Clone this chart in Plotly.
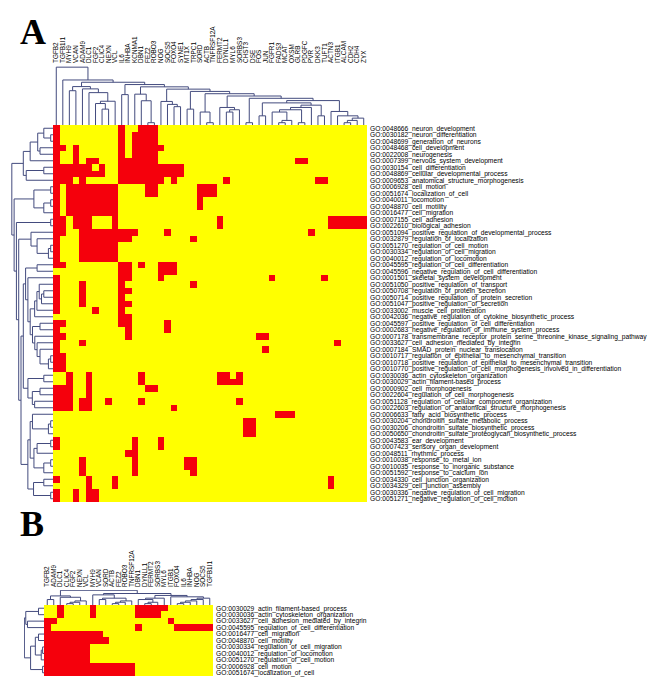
import plotly.graph_objects as go
import numpy as np

# ---------------- Panel A data ----------------
genes_A = ["TGFB2","TGFB1I1","MYH9","VCAN","ADAM9","DLC1","FGF2","CLIC4","NEXN","VCL",
           "IL6","INHBA","KCNMA1","DBN1","FEZ2","ROBO3","NOG","SOCS5","FOXO4","SYNE1",
           "MT1X","TRPC1","SORD","ACTB","TNFRSF12A","FERMT2","DYNLL1","MYL6","SORBS3","CHST3",
           "DSE","FOS","JUN","FGFR1","FADS3","MCAT","OXSM","GLRB","PDGFC","PVR",
           "DKK3","TUFT1","ACTN3","ITGB1","ALCAM","CDH2","CDH4","ZYX"]

terms_A = [
    "GO:0048666_neuron_development","GO:0030182_neuron_differentiation","GO:0048699_generation_of_neurons",
    "GO:0048468_cell_development","GO:0022008_neurogenesis","GO:0007399_nervous_system_development",
    "GO:0030154_cell_differentiation","GO:0048869_cellular_developmental_process",
    "GO:0009653_anatomical_structure_morphogenesis","GO:0006928_cell_motion","GO:0051674_localization_of_cell",
    "GO:0040011_locomotion","GO:0048870_cell_motility","GO:0016477_cell_migration","GO:0007155_cell_adhesion",
    "GO:0022610_biological_adhesion","GO:0051094_positive_regulation_of_developmental_process",
    "GO:0032879_regulation_of_localization","GO:0051270_regulation_of_cell_motion",
    "GO:0030334_regulation_of_cell_migration","GO:0040012_regulation_of_locomotion",
    "GO:0045595_regulation_of_cell_differentiation","GO:0045596_negative_regulation_of_cell_differentiation",
    "GO:0001501_skeletal_system_development","GO:0051050_positive_regulation_of_transport",
    "GO:0050708_regulation_of_protein_secretion","GO:0050714_positive_regulation_of_protein_secretion",
    "GO:0051047_positive_regulation_of_secretion","GO:0033002_muscle_cell_proliferation",
    "GO:0042036_negative_regulation_of_cytokine_biosynthetic_process",
    "GO:0045597_positive_regulation_of_cell_differentiation",
    "GO:0002683_negative_regulation_of_immune_system_process",
    "GO:0007178_transmembrane_receptor_protein_serine_threonine_kinase_signaling_pathway",
    "GO:0033627_cell_adhesion_mediated_by_integrin","GO:0007184_SMAD_protein_nuclear_translocation",
    "GO:0010717_regulation_of_epithelial_to_mesenchymal_transition",
    "GO:0010718_positive_regulation_of_epithelial_to_mesenchymal_transition",
    "GO:0010770_positive_regulation_of_cell_morphogenesis_involved_in_differentiation",
    "GO:0030036_actin_cytoskeleton_organization","GO:0030029_actin_filament-based_process",
    "GO:0000902_cell_morphogenesis","GO:0022604_regulation_of_cell_morphogenesis",
    "GO:0051128_regulation_of_cellular_component_organization",
    "GO:0022603_regulation_of_anatomical_structure_morphogenesis","GO:0006633_fatty_acid_biosynthetic_process",
    "GO:0030204_chondroitin_sulfate_metabolic_process","GO:0030206_chondroitin_sulfate_biosynthetic_process",
    "GO:0050650_chondroitin_sulfate_proteoglycan_biosynthetic_process","GO:0043583_ear_development",
    "GO:0007423_sensory_organ_development","GO:0048511_rhythmic_process","GO:0010038_response_to_metal_ion",
    "GO:0010035_response_to_inorganic_substance","GO:0051592_response_to_calcium_ion",
    "GO:0034330_cell_junction_organization","GO:0034329_cell_junction_assembly",
    "GO:0030336_negative_regulation_of_cell_migration","GO:0051271_negative_regulation_of_cell_motion"]

# red (gene annotated to term) column indices for each term row
red_A = [
    [0,10,13,14,15],
    [0,10,12,13,14,15],
    [0,10,12,13,14,15],
    [0,1,3,10,12,13,14,15,16],
    [0,3,10,12,13,14,15],
    [0,3,5,6,10,11,12,13,14,15,37,38],
    [0,1,2,3,4,5,7,10,11,12,13,14,15,16,17,18,19],
    [0,1,2,3,4,5,6,7,10,11,12,13,14,15,16,17,18,19],
    [0,1,2,4,10,11,12,13,14,15,16,18,26,40,41],
    [0,2,3,4,5,6,7,8,9,14,15,22,23,24],
    [0,2,3,4,5,6,7,8,9,14,15,22,23,24],
    [0,2,3,4,5,6,7,8,9,22],
    [0,2,3,4,5,6,7,8,9,22],
    [0,2,3,4,5,6,7,8,9],
    [0,1,3,4,5,9,25,42,43,44,45,46,47],
    [0,1,3,4,5,9,25,42,43,44,45,46,47],
    [0,1,4,5,6,7,8,9,10,11,12,17,39],
    [0,4,5,6,7,8,9,10,11,21],
    [0,4,5,6,7,8,9],
    [0,4,5,6,7,8,9],
    [0,4,5,6,7,8,9],
    [0,1,10,11,13,16,17,18],
    [10,11,16,17,18],
    [0,10,11,16,33,41],
    [0,4,10,21],
    [0,4,10,11],
    [0,4,10],
    [0,4,10,11],
    [0,6,10],
    [10,11],
    [0,1,10,11,17],
    [0,11,17],
    [0,1,11,31,32],
    [0,4,43],
    [0,32],
    [0,1],
    [0,1],
    [0,1],
    [2,5,13,25,26,28],
    [2,5,13,25,26,27,28],
    [0,1,2,5,14,15],
    [0,1,2,5],
    [0,1,2,4,5,8,13,28],
    [0,1,2,4,5,18],
    [34,35,36],
    [29,30],
    [29,30],
    [29,30],
    [0,12,16],
    [0,12,16],
    [11,12],
    [4,12,20,21],
    [4,12,20,21],
    [4,12,21],
    [0,5,9,42],
    [5,9,42],
    [0,3,5,6],
    [0,3,5,6]]

# ---------------- Panel B data ----------------
genes_B = ["TGFB2","ADAM9","DLC1","CLIC4","FGF2","NEXN","VCL","MYH9","VCAN","SORD","ACTB","FEZ2","ROBO3",
           "TNFRSF12A","DBN1","DYNLL1","FERMT2","SORBS3","MYL6","ITGB1","FOXO4","IL6","INHBA","NOG","SOCS5","TGFB1I1"]
terms_B = ["GO:0030029_actin_filament-based_process","GO:0030036_actin_cytoskeleton_organization",
           "GO:0033627_cell_adhesion_mediated_by_integrin","GO:0045595_regulation_of_cell_differentiation",
           "GO:0016477_cell_migration","GO:0048870_cell_motility","GO:0030334_regulation_of_cell_migration",
           "GO:0040012_regulation_of_locomotion","GO:0051270_regulation_of_cell_motion",
           "GO:0006928_cell_motion","GO:0051674_localization_of_cell"]
red_B = [
    [2,7,14,15,16,17,18],
    [2,7,14,15,16,17],
    [0,1,19],
    [0,14,20,21,22,23,24,25],
    [0,1,2,3,4,5,6,7,8],
    [0,1,2,3,4,5,6,7,8,9],
    [0,1,2,3,4,5,6],
    [0,1,2,3,4,5,6],
    [0,1,2,3,4,5,6],
    [0,1,2,3,4,5,6,7,8,9,10,11,12,13],
    [0,1,2,3,4,5,6,7,8,9,10,11,12,13]]

YELLOW = "#FFFF00"
RED = "#F5000C"
LINE = "#434b7e"
W, H = 660, 677


def to_matrix(rows, ncol):
    return np.array([[1 if c in set(r) else 0 for c in range(ncol)] for r in rows], dtype=float)


def ordered_linkage(vectors, eps=0.25):
    """Average-linkage clustering restricted to neighbours, so the leaf order is kept."""
    vec = np.asarray(vectors, dtype=float)
    cl = [{"m": [i], "p": float(i), "h": 0.0} for i in range(len(vec))]
    segs = []
    while len(cl) > 1:
        best = None
        for k in range(len(cl) - 1):
            a, b = cl[k], cl[k + 1]
            d = np.mean([np.linalg.norm(vec[i] - vec[j]) for i in a["m"] for j in b["m"]])
            if best is None or d < best[0] - 1e-9:
                best = (d, k)
        d, k = best
        a, b = cl[k], cl[k + 1]
        h = max(d, a["h"] + eps, b["h"] + eps)
        segs.append((a["p"], a["h"], b["p"], b["h"], h))
        cl[k:k + 2] = [{"m": a["m"] + b["m"], "p": (a["p"] + b["p"]) / 2, "h": h}]
    return segs, cl[0]["h"]


def dendro_xy(segs, horizontal_leaves=True):
    xs, ys = [], []
    for pa, ha, pb, hb, h in segs:
        pos = [pa, pa, pb, pb]
        hei = [ha, h, h, hb]
        if horizontal_leaves:
            xs += pos + [None]; ys += hei + [None]
        else:
            xs += hei + [None]; ys += pos + [None]
    return xs, ys


zA = to_matrix(red_A, len(genes_A))
zB = to_matrix(red_B, len(genes_B))

def px_x(a, b):
    return [a / W, b / W]

def px_y(top, bottom):
    return [1 - bottom / H, 1 - top / H]

# layout geometry (pixels)
A_hm_x, A_hm_y = (45, 359), (117, 494)
A_cd_y = (58, 117)
A_rd_x = (3, 45)
B_hm_x, B_hm_y = (36, 205), (597, 668)
B_cd_y = (582, 597)
B_rd_x = (16, 36)

fig = go.Figure()
cs = [[0, YELLOW], [1, RED]]

fig.add_trace(go.Heatmap(z=zA, x=list(range(len(genes_A))), y=list(range(len(terms_A))),
                         colorscale=cs, zmin=0, zmax=1, showscale=False, hoverinfo="skip",
                         xaxis="x", yaxis="y"))
fig.add_trace(go.Heatmap(z=zB, x=list(range(len(genes_B))), y=list(range(len(terms_B))),
                         colorscale=cs, zmin=0, zmax=1, showscale=False, hoverinfo="skip",
                         xaxis="x4", yaxis="y4"))

segs, hcA = ordered_linkage(zA.T)
xs, ys = dendro_xy(segs, True)
fig.add_trace(go.Scatter(x=xs, y=ys, mode="lines", line=dict(color=LINE, width=1),
                         xaxis="x2", yaxis="y2", hoverinfo="skip", showlegend=False))
segs, hrA = ordered_linkage(zA)
xs, ys = dendro_xy(segs, False)
fig.add_trace(go.Scatter(x=xs, y=ys, mode="lines", line=dict(color=LINE, width=1),
                         xaxis="x3", yaxis="y3", hoverinfo="skip", showlegend=False))
segs, hcB = ordered_linkage(zB.T)
xs, ys = dendro_xy(segs, True)
fig.add_trace(go.Scatter(x=xs, y=ys, mode="lines", line=dict(color=LINE, width=1),
                         xaxis="x5", yaxis="y5", hoverinfo="skip", showlegend=False))
segs, hrB = ordered_linkage(zB)
xs, ys = dendro_xy(segs, False)
fig.add_trace(go.Scatter(x=xs, y=ys, mode="lines", line=dict(color=LINE, width=1),
                         xaxis="x6", yaxis="y6", hoverinfo="skip", showlegend=False))

LBL = dict(family="Liberation Sans, Arial, sans-serif", size=6.7, color="black")
GLBL = dict(family="Liberation Sans, Arial, sans-serif", size=6.4, color="black")
hidden = dict(visible=False, showgrid=False, zeroline=False)
nA, mA = len(genes_A), len(terms_A)
nB, mB = len(genes_B), len(terms_B)

fig.update_layout(
    width=W, height=H, margin=dict(l=0, r=0, t=0, b=0),
    paper_bgcolor="white", plot_bgcolor="white", showlegend=False,
    xaxis=dict(domain=px_x(*A_hm_x), range=[-0.5, nA - 0.5], anchor="y", **hidden),
    yaxis=dict(domain=px_y(*A_hm_y), range=[mA - 0.5, -0.5], anchor="x", side="right",
               tickmode="array", tickvals=list(range(mA)), ticktext=terms_A, tickfont=LBL,
               showgrid=False, zeroline=False, showline=False, ticks="", ticklabelstandoff=2),
    xaxis2=dict(domain=px_x(*A_hm_x), range=[-0.5, nA - 0.5], anchor="y2", side="top",
                tickmode="array", tickvals=list(range(nA)), ticktext=genes_A, tickangle=-90,
                tickfont=GLBL, showgrid=False, zeroline=False, showline=False, ticks="",
                ticklabelstandoff=2),
    yaxis2=dict(domain=px_y(*A_cd_y), range=[0, hcA * 1.02], anchor="x2", **hidden),
    xaxis3=dict(domain=px_x(*A_rd_x), range=[hrA * 1.02, 0], anchor="y3", **hidden),
    yaxis3=dict(domain=px_y(*A_hm_y), range=[mA - 0.5, -0.5], anchor="x3", **hidden),
    xaxis4=dict(domain=px_x(*B_hm_x), range=[-0.5, nB - 0.5], anchor="y4", **hidden),
    yaxis4=dict(domain=px_y(*B_hm_y), range=[mB - 0.5, -0.5], anchor="x4", side="right",
                tickmode="array", tickvals=list(range(mB)), ticktext=terms_B, tickfont=LBL,
                showgrid=False, zeroline=False, showline=False, ticks="", ticklabelstandoff=2),
    xaxis5=dict(domain=px_x(*B_hm_x), range=[-0.5, nB - 0.5], anchor="y5", side="top",
                tickmode="array", tickvals=list(range(nB)), ticktext=genes_B, tickangle=-90,
                tickfont=GLBL, showgrid=False, zeroline=False, showline=False, ticks="",
                ticklabelstandoff=2),
    yaxis5=dict(domain=px_y(*B_cd_y), range=[0, hcB * 1.02], anchor="x5", **hidden),
    xaxis6=dict(domain=px_x(*B_rd_x), range=[hrB * 1.02, 0], anchor="y6", **hidden),
    yaxis6=dict(domain=px_y(*B_hm_y), range=[mB - 0.5, -0.5], anchor="x6", **hidden),
    annotations=[
        dict(text="<b>A</b>", x=10 / W, y=1 - 2 / H, xref="paper", yref="paper",
             xanchor="left", yanchor="top", showarrow=False,
             font=dict(family="Liberation Serif, Times New Roman, serif", size=36, color="black")),
        dict(text="<b>B</b>", x=10 / W, y=1 - 494 / H, xref="paper", yref="paper",
             xanchor="left", yanchor="top", showarrow=False,
             font=dict(family="Liberation Serif, Times New Roman, serif", size=36, color="black")),
    ],
)

fig.write_html("out.html", config={"displayModeBar": False})
